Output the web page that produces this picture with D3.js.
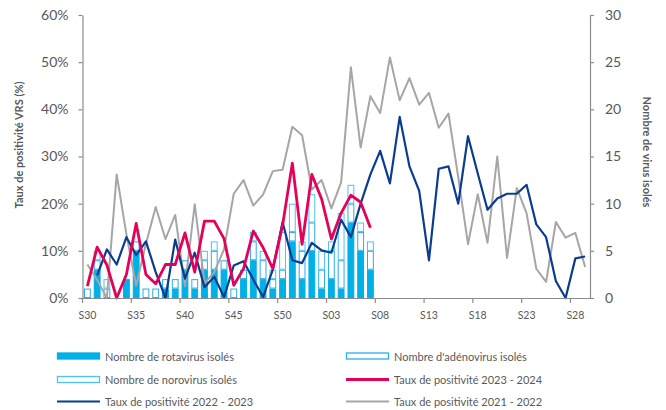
<!DOCTYPE html>
<html lang="fr">
<head>
<meta charset="utf-8">
<script src="https://cdn.jsdelivr.net/npm/d3@7"></script>
<style>
  body { margin: 0; background: #fff; }
  svg text { font-family: Lato, "Open Sans", sans-serif; fill: #595959; }
</style>
</head>
<body>
<svg id="chart" width="666" height="410"></svg>
<script>
// semaines S30 -> S29
var semaines = ["S30","S31","S32","S33","S34","S35","S36","S37","S38","S39","S40","S41","S42","S43","S44","S45","S46","S47","S48","S49","S50","S51","S52",
  "S01","S02","S03","S04","S05","S06","S07","S08","S09","S10","S11","S12","S13","S14","S15","S16","S17","S18","S19","S20","S21","S22","S23","S24","S25","S26","S27","S28","S29"];
var semainesAffichees = ["S30","S35","S40","S45","S50","S03","S08","S13","S18","S23","S28"];

// nombre de virus isolés (saison 2023-2024, S30 -> S07)
var rotavirus  = [0,3,0,0,2,5,0,0,1,1,3,1,3,3,3,0,2,4,2,1,2,6,2,5,1,2,1,8,5,3];
var adenovirus = [1,1,1,0,0,1,1,1,1,1,1,1,1,2,1,1,1,2,2,1,1,1,3,3,2,3,3,2,2,2];
var norovirus  = [0,1,1,0,0,0,0,0,0,0,0,0,1,1,0,0,0,1,1,1,4,3,1,3,2,1,5,2,1,1];

// taux de positivité VRS (%)
var taux2324 = [2.5,10.8,7.0,0,5.0,15.8,5.0,3.0,7.1,7.1,13.8,5.5,16.3,16.3,12.6,2.7,6.2,14.2,10.7,6.2,15.4,28.6,11.4,26.2,21.0,12.5,18.0,21.8,20.3,14.9];
var taux2223 = [null,4.8,10.3,7.1,12.9,9.1,12.0,5.5,0,12.4,4.1,9.6,2.3,4.5,0.2,6.9,7.8,3.9,0.2,6.0,16.1,8.0,7.4,11.7,10.1,9.6,16.6,12.9,20.0,26.2,
  31.2,24.3,38.4,27.9,22.7,8.0,27.4,27.9,20.0,34.3,26.4,18.7,21.1,22.1,22.1,24.0,15.6,12.9,3.6,0,8.4,8.8];
var taux2122 = [7.1,3.8,0,26.2,13.5,2.6,11.5,19.3,12.5,17.6,2.5,19.9,3.1,5.5,10.3,22.1,25.0,19.6,21.9,26.9,27.2,36.3,34.5,23.0,25.0,19.0,24.5,48.9,31.9,42.8,
  39.2,51.0,41.9,46.6,41.0,43.5,36.1,39.1,25.6,11.4,22.0,11.7,30.0,8.5,23.3,18.0,6.2,3.4,16.1,12.8,13.8,6.6];

var couleurs = {rota: "#00b0e6", adeno: "#2aaee3", noro: "#4cc4f0", t2324: "#e5005a", t2223: "#0a3d8f", t2122: "#a6a6a6", axe: "#8c8c8c"};

var svg = d3.select("#chart");
var gauche = 82.5, droite = 590, haut = 15, bas = 298;

var x = d3.scaleBand().domain(semaines).range([gauche, droite]).paddingInner(0.3).paddingOuter(0.15);
var yL = d3.scaleLinear().domain([0, 0.6]).range([bas, haut]);
var yR = d3.scaleLinear().domain([0, 30]).range([bas, haut]);
var centre = function(i){ return x(semaines[i]) + x.bandwidth() / 2; };

// barres empilées
var table = rotavirus.map(function(r, i){
  return {semaine: semaines[i], rota: r, adeno: adenovirus[i], noro: norovirus[i]};
});
var pile = d3.stack().keys(["rota","adeno","noro"])(table);

var gBarres = svg.append("g");
pile.forEach(function(serie){
  var plein = serie.key === "rota";
  gBarres.append("g").selectAll("rect")
    .data(serie.filter(function(d){ return d[1] > d[0]; }))
    .enter().append("rect")
    .attr("x", function(d){ return x(d.data.semaine) + 0.5; })
    .attr("width", x.bandwidth() - 1)
    .attr("y", function(d){ return yR(d[1]) + 0.5; })
    .attr("height", function(d){ return yR(d[0]) - yR(d[1]) - 1; })
    .attr("fill", plein ? couleurs.rota : "#fff")
    .attr("stroke", plein ? couleurs.rota : couleurs[serie.key])
    .attr("stroke-width", 1);
});

// courbes
function courbe(valeurs, couleur, epaisseur){
  var ligne = d3.line()
    .defined(function(d){ return d != null; })
    .x(function(d, i){ return centre(i); })
    .y(function(d){ return yL(d / 100); });
  svg.append("path").datum(valeurs)
    .attr("d", ligne)
    .attr("fill", "none")
    .attr("stroke", couleur)
    .attr("stroke-width", epaisseur)
    .attr("stroke-linejoin", "round");
}
courbe(taux2122, couleurs.t2122, 2);
courbe(taux2223, couleurs.t2223, 2.2);
courbe(taux2324, couleurs.t2324, 2.8);

// axes
function styleAxe(g, taille){
  g.select(".domain").attr("stroke", couleurs.axe).attr("stroke-width", 1.2);
  g.selectAll(".tick line").attr("stroke", couleurs.axe).attr("stroke-width", 1.2);
  g.selectAll(".tick text").attr("font-size", taille).attr("fill", "#595959");
}

var axeG = svg.append("g").attr("transform", "translate(" + gauche + ",0)")
  .call(d3.axisLeft(yL).tickValues(d3.range(0, 0.61, 0.1)).tickFormat(d3.format(".0%")).tickSize(4).tickSizeOuter(0).tickPadding(10));
styleAxe(axeG, 14);

var axeD = svg.append("g").attr("transform", "translate(" + droite + ",0)")
  .call(d3.axisRight(yR).tickValues(d3.range(0, 31, 5)).tickSize(4).tickSizeOuter(0).tickPadding(11));
styleAxe(axeD, 14);

var axeX = svg.append("g").attr("transform", "translate(0," + bas + ")")
  .call(d3.axisBottom(x).tickValues(semainesAffichees).tickSize(5).tickSizeOuter(0).tickPadding(9));
axeX.selectAll(".tick line").attr("x1", -x.step() / 2).attr("x2", -x.step() / 2);
styleAxe(axeX, 10.5);

// titres d'axes
svg.append("text")
  .attr("transform", "translate(18,145) rotate(-90)")
  .attr("text-anchor", "middle").attr("dominant-baseline", "central")
  .attr("font-size", 11).attr("font-weight", "bold").attr("fill", "#4d4d4d")
  .text("Taux de positivité VRS (%)");
svg.append("text")
  .attr("transform", "translate(647,152) rotate(90)")
  .attr("text-anchor", "middle").attr("dominant-baseline", "central")
  .attr("font-size", 11).attr("font-weight", "bold").attr("fill", "#4d4d4d")
  .text("Nombre de virus isolés");

// légende
var legende = [
  {nom: "Nombre de rotavirus isolés", type: "plein", c: couleurs.rota, x: 57, y: 356},
  {nom: "Nombre d'adénovirus isolés", type: "vide", c: couleurs.adeno, x: 346, y: 356},
  {nom: "Nombre de norovirus isolés", type: "vide", c: couleurs.noro, x: 57, y: 379.5},
  {nom: "Taux de positivité 2023 - 2024", type: "ligne", c: couleurs.t2324, w: 2.8, x: 346, y: 379.5},
  {nom: "Taux de positivité 2022 - 2023", type: "ligne", c: couleurs.t2223, w: 2.2, x: 57, y: 401.5},
  {nom: "Taux de positivité 2021 - 2022", type: "ligne", c: couleurs.t2122, w: 2, x: 346, y: 401.5}
];
var gL = svg.append("g").selectAll("g").data(legende).enter().append("g")
  .attr("transform", function(d){ return "translate(" + d.x + "," + d.y + ")"; });
gL.filter(function(d){ return d.type !== "ligne"; }).append("rect")
  .attr("x", 0.5).attr("y", -3).attr("width", 42).attr("height", 6)
  .attr("fill", function(d){ return d.type === "plein" ? d.c : "#fff"; })
  .attr("stroke", function(d){ return d.c; }).attr("stroke-width", 1.3);
gL.filter(function(d){ return d.type === "ligne"; }).append("line")
  .attr("x1", 0).attr("x2", 43).attr("y1", 0).attr("y2", 0)
  .attr("stroke", function(d){ return d.c; })
  .attr("stroke-width", function(d){ return d.w; });
gL.append("text")
  .attr("x", 48).attr("y", 0).attr("dominant-baseline", "central")
  .attr("font-size", 11).attr("fill", "#333333")
  .text(function(d){ return d.nom; });
</script>
</body>
</html>
